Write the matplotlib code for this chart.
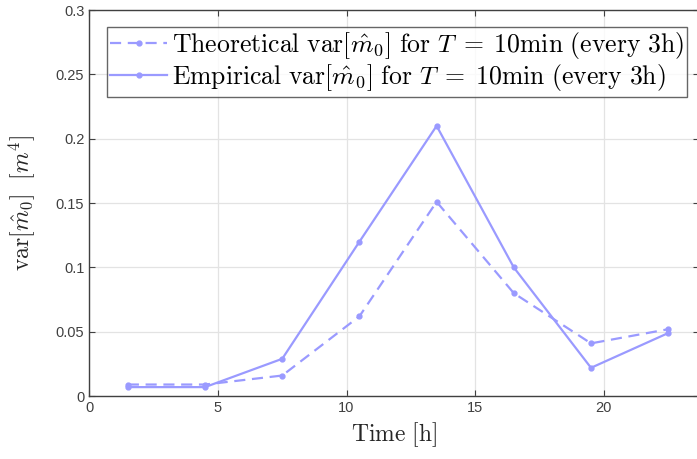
import numpy as np
import matplotlib
matplotlib.use('Agg')
import matplotlib.pyplot as plt

# hours (every 3h)
hours = [1.5, 4.5, 7.5, 10.5, 13.5, 16.5, 19.5, 22.5]
var_theoretical = [0.009, 0.009, 0.016, 0.062, 0.151, 0.080, 0.041, 0.052]
var_empirical = [0.007, 0.007, 0.029, 0.120, 0.210, 0.100, 0.022, 0.049]

xticks = [0, 5, 10, 15, 20]
yticks = [0, 0.05, 0.1, 0.15, 0.2, 0.25, 0.3]
ytick_labels = ['0', '0.05', '0.1', '0.15', '0.2', '0.25', '0.3']

plt.rcParams['mathtext.fontset'] = 'cm'
plt.rcParams['font.family'] = 'Liberation Sans'

col = '#9a9aff'

fig = plt.figure(figsize=(6.97, 4.59), dpi=100)
ax = fig.add_axes([0.128, 0.137, 0.875, 0.841])

lab_t = r'$\mathrm{Theoretical\ var}[\hat{m}_0]\ \mathrm{for}\ T\;=\;10\mathrm{min\ (every\ 3h)}$'
lab_e = r'$\mathrm{Empirical\ var}[\hat{m}_0]\ \mathrm{for}\ T\;=\;10\mathrm{min\ (every\ 3h)}$'

ax.plot(hours, var_theoretical, '--', color=col, lw=1.6, marker='o', ms=3.5,
        dashes=(5, 3), label=lab_t)
ax.plot(hours, var_empirical, '-', color=col, lw=1.6, marker='o', ms=3.5,
        label=lab_e)

ax.set_xlim(0, 23.7)
ax.set_ylim(0, 0.3)
ax.set_xticks(xticks)
ax.set_yticks(yticks)
ax.set_yticklabels(ytick_labels)
ax.grid(True, color='#e3e3e3', lw=0.9)
ax.set_axisbelow(True)
ax.tick_params(direction='in', top=True, right=True, labelsize=10.5,
               colors='#404040', length=4)
for s in ax.spines.values():
    s.set_color('#404040')
    s.set_linewidth(1.0)

ax.set_xlabel(r'$\mathrm{Time\ [h]}$', fontsize=17, color='#262626', labelpad=4)
ax.set_ylabel(r'$\mathrm{var}[\hat{m}_0]\ \ [m^4]$', fontsize=17, color='#262626')
ax.yaxis.set_label_coords(-0.085, 0.5)

leg = ax.legend(loc='upper left', bbox_to_anchor=(0.0295, 0.956), fontsize=18.5,
                frameon=True, fancybox=False, edgecolor='#404040',
                handlelength=2.2, handletextpad=0.2, borderpad=0.12,
                labelspacing=0.05, borderaxespad=0)
leg.get_frame().set_linewidth(1.0)

fig.savefig('out.png', dpi=100)
